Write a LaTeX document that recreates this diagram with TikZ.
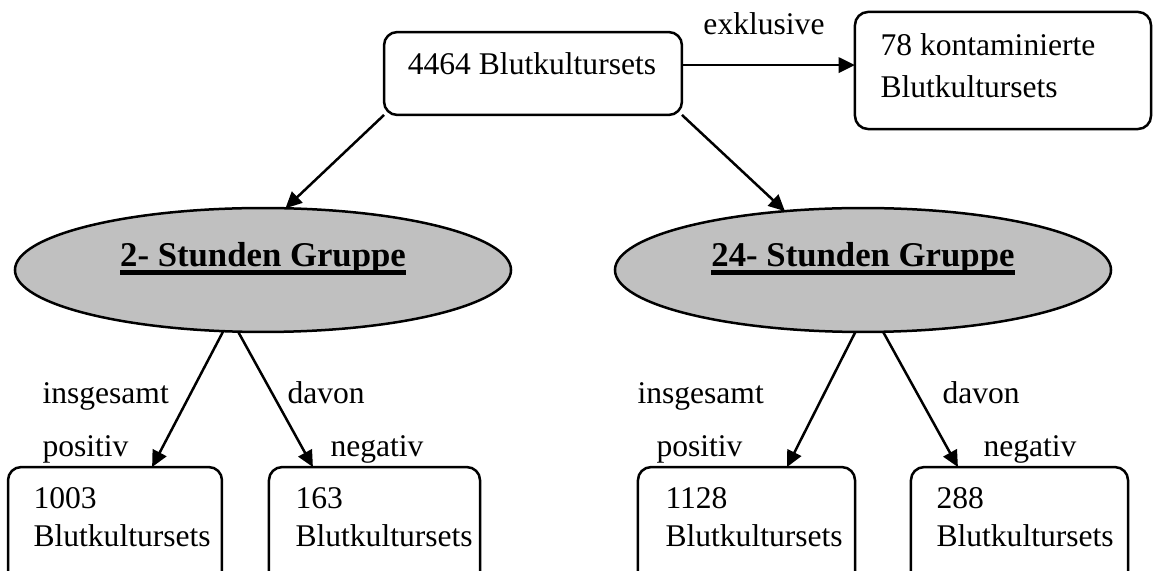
\documentclass[tikz,border=0pt]{standalone}
\usepackage{fontspec}
\setmainfont{Liberation Serif}
\usetikzlibrary{arrows.meta,shapes.geometric}
\definecolor{grpgray}{RGB}{192,192,192}
% dicke Unterstreichung fuer die Gruppennamen
\newcommand{\grpline}[1]{\setbox0\hbox{#1}\rlap{\vrule height -1.3pt depth 2.9pt width \wd0}\box0}
\begin{document}
\begin{tikzpicture}[x=.38pt,y=-.38pt, every node/.style={font=\fontsize{12}{14}\selectfont},
  kbox/.style={draw,line width=.95pt,rounded corners=5pt,inner sep=0pt,outer sep=0pt},
  grp/.style={ellipse,draw,line width=.95pt,fill=grpgray,inner sep=0pt,outer sep=0pt,
    minimum width=188.5pt,minimum height=47.1pt},
  lbl/.style={inner sep=0pt,anchor=base west},
  txt/.style={inner sep=0pt,anchor=base west,align=left,font=\fontsize{12}{14.8}\selectfont},
  grptxt/.style={inner sep=0pt,anchor=base,font=\fontsize{13.2}{15}\selectfont\bfseries},
  pfeil/.style={line width=.95pt,-{Triangle[length=6.2pt,width=5.8pt]}}]
  \useasboundingbox (0,0) rectangle (1154,571);
  % oben
  \node[kbox,minimum width=113.2pt,minimum height=31.5pt] (gesamt) at (533,73.5) {};
  \node[lbl,anchor=base] (gesamtT) at (532,75) {4464 Blutkultursets};
  \node[kbox,minimum width=112.5pt,minimum height=44.5pt] (kont) at (1003,70.5) {};
  \node[txt,font=\fontsize{12}{16.3}\selectfont] (kontT) at (880,98) {78 kontaminierte\\Blutkultursets};
  \coordinate (exkl) at ([yshift=3.2pt]gesamt.east);
  \draw[pfeil] (exkl) -- (exkl -| kont.west);
  \node[lbl,anchor=base] (exklT) at (764,35) {exklusive};
  % Gruppen
  \node[grp] (zwei) at (263,270) {};
  \node[grptxt] (zweiT) at (263,267) {\grpline{2- Stunden Gruppe}};
  \node[grp] (vierzig) at (863,270) {};
  \node[grptxt] (vierzigT) at (863,267) {\grpline{24- Stunden Gruppe}};
  \draw[pfeil] (gesamt.south west) -- (zwei.70);
  \draw[pfeil] (gesamt.south east) -- (vierzig.143);
  % unten
  \node[kbox,minimum width=81.3pt,minimum height=50.5pt] (pos2) at (115,533.5) {};
  \node[txt] (pos2T) at (33,547) {1003\\Blutkultursets};
  \node[kbox,minimum width=80.2pt,minimum height=50.5pt] (neg2) at (374.5,533.5) {};
  \node[txt] (neg2T) at (295,547) {163\\Blutkultursets};
  \node[kbox,minimum width=82.5pt,minimum height=50.5pt] (pos24) at (746.5,533.5) {};
  \node[txt] (pos24T) at (665,547) {1128\\Blutkultursets};
  \node[kbox,minimum width=82.5pt,minimum height=50.5pt] (neg24) at (1019.5,533.5) {};
  \node[txt] (neg24T) at (936,547) {288\\Blutkultursets};
  \draw[pfeil] (zwei.237) -- ([xshift=14.1pt]pos2.north);
  \draw[pfeil] (zwei.248) -- ([xshift=-23.4pt]neg2.north);
  \draw[pfeil] (vierzig.263) -- ([xshift=15.4pt]pos24.north);
  \draw[pfeil] (vierzig.288) -- ([xshift=-23.4pt]neg24.north);
  \node[lbl] (ins2) at (42,404) {insgesamt};
  \node[lbl] (posT2) at (42,457) {positiv};
  \node[lbl] (dav2) at (287,404) {davon};
  \node[lbl] (negT2) at (330,457) {negativ};
  \node[lbl] (ins24) at (637,404) {insgesamt};
  \node[lbl] (posT24) at (656,457) {positiv};
  \node[lbl] (dav24) at (942,404) {davon};
  \node[lbl] (negT24) at (983,457) {negativ};
\end{tikzpicture}
\end{document}
